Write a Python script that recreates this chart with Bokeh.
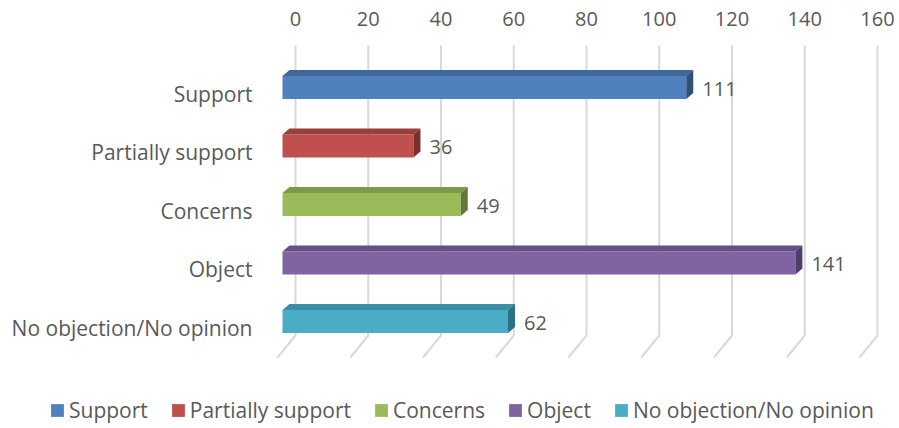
from bokeh.plotting import figure
from bokeh.models import Range1d, FixedTicker, Legend, LegendItem, ColumnDataSource
from bokeh.core.properties import value
from bokeh.embed import file_html
from bokeh.resources import INLINE

# ---- data ----
categories = ["Support", "Partially support", "Concerns", "Object", "No objection/No opinion"]
counts = [111, 36, 49, 141, 62]
colors = ["#4F81BD", "#C0504D", "#9BBB59", "#8064A2", "#4BACC6"]
top_colors = ["#3E679A", "#9C3F3C", "#7D9A46", "#674F86", "#3A8FA6"]
side_colors = ["#2F5078", "#7A302E", "#617836", "#503D69", "#2C7083"]
ticks = [0, 20, 40, 60, 80, 100, 120, 140, 160]

# ---- layout constants (pixels) ----
W, H = 899, 428
TOP = 40
PXU = 3.6375      # px per value unit
X0_PX = 295       # back-wall zero position
ROW_PX = 58.5     # px per category row
ROW0_PX = 93      # first category label centre

def ux(px):
    return px / PXU

def uy(px):
    return px / ROW_PX

x_start = -X0_PX / PXU
x_end = (W - X0_PX) / PXU
y_top = (TOP - ROW0_PX) / ROW_PX
y_bot = (H - ROW0_PX) / ROW_PX

FONT = "Open Sans"
TXT = "#595959"
LBL_SIZE = "21px"
NUM_SIZE = "20px"

p = figure(width=W, height=H, x_range=Range1d(x_start, x_end), y_range=Range1d(y_bot, y_top),
           x_axis_location="above", y_axis_type=None, output_backend="svg", toolbar_location=None,
           min_border_left=0, min_border_right=0, min_border_bottom=0, min_border_top=TOP)
p.outline_line_color = None
p.xgrid.visible = False
p.ygrid.visible = False
p.background_fill_color = "white"
p.border_fill_color = "white"

ax = p.xaxis[0]
ax.ticker = FixedTicker(ticks=ticks)
ax.axis_line_color = None
ax.major_tick_line_color = None
ax.minor_tick_line_color = None
ax.major_label_text_font = FONT
ax.major_label_text_font_size = NUM_SIZE
ax.major_label_text_color = TXT
ax.major_label_standoff = 9

# ---- gridlines (back wall + floor slant) ----
g_top = (45 - ROW0_PX) / ROW_PX
g_bot = (335 - ROW0_PX) / ROW_PX
g_floor = (357 - ROW0_PX) / ROW_PX
gxs = [[t, t, t - ux(18)] for t in ticks]
gys = [[g_top, g_bot, g_floor] for t in ticks]
p.multi_line(xs=gxs, ys=gys, line_color="#D9D9D9", line_width=2)

# ---- 3D bars ----
FRONT = ux(13)      # front plane offset to the left of the back wall
DX = ux(7)          # depth, horizontal
DY = uy(6)          # depth, vertical
BH = uy(23)         # bar height
BOFF = uy(-6)       # bar centre relative to label row

items = []
for i, (cat, v) in enumerate(zip(categories, counts)):
    yc = i + BOFF
    x0 = -FRONT
    x1 = v - FRONT
    yt = yc - BH / 2
    yb = yc + BH / 2
    r = p.hbar(y=[yc], left=[x0], right=[x1], height=BH, fill_color=colors[i], line_color=None)
    p.patch(x=[x0, x1, x1 + DX, x0 + DX], y=[yt, yt, yt - DY, yt - DY],
            fill_color=top_colors[i], line_color=None)
    p.patch(x=[x1, x1 + DX, x1 + DX, x1], y=[yt, yt - DY, yb - DY, yb],
            fill_color=side_colors[i], line_color=None)
    items.append(LegendItem(label=cat, renderers=[r]))

# value labels
lab_src = ColumnDataSource(dict(
    x=[v - FRONT + ux(16) for v in counts],
    y=[i + uy(-5) for i in range(len(counts))],
    t=[str(v) for v in counts]))
p.text(x="x", y="y", text="t", source=lab_src, text_font=value(FONT), text_font_size=NUM_SIZE,
       text_color=TXT, text_align="left", text_baseline="middle")

# category labels
cat_src = ColumnDataSource(dict(
    x=[ux(252 - X0_PX)] * len(categories),
    y=list(range(len(categories))),
    t=categories))
p.text(x="x", y="y", text="t", source=cat_src, text_font=value(FONT), text_font_size=LBL_SIZE,
       text_color=TXT, text_align="right", text_baseline="middle")

legend = Legend(items=items, orientation="horizontal", location=(49, 4),
                glyph_width=16, glyph_height=16, label_standoff=4, spacing=22,
                padding=0, margin=0, border_line_color=None, background_fill_alpha=0,
                label_text_font=FONT, label_text_font_size=LBL_SIZE, label_text_color=TXT)
p.add_layout(legend)

open("out.html", "w").write(file_html(p, INLINE))
